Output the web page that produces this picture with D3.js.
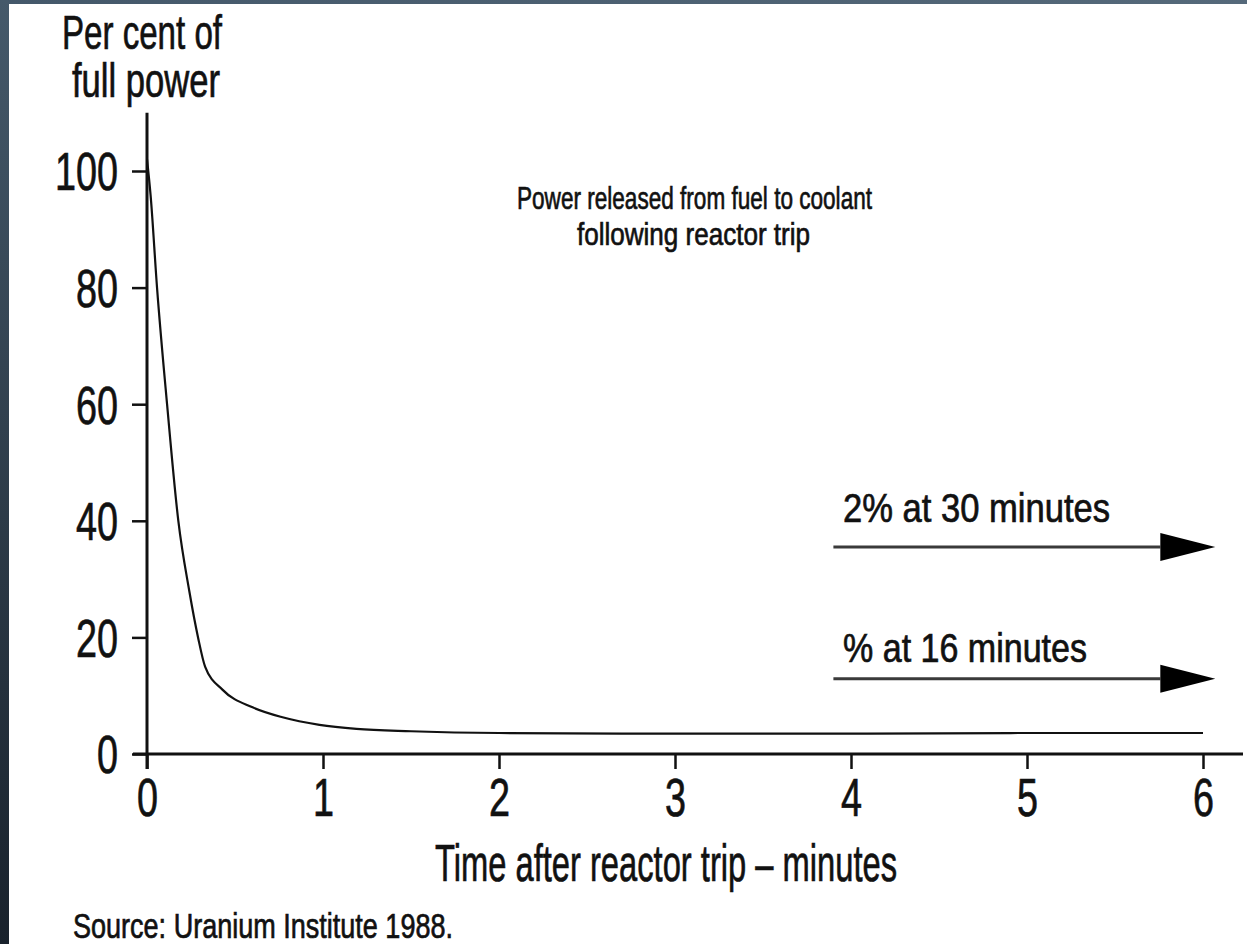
<!DOCTYPE html>
<html>
<head>
<meta charset="utf-8">
<script src="https://cdn.jsdelivr.net/npm/d3@7"></script>
<style>
  html, body { margin: 0; padding: 0; background: #fff; }
  svg { display: block; }
  text { font-family: "Liberation Sans", Arial, sans-serif; fill: #111; stroke: #111; stroke-width: 0.7px; }
</style>
</head>
<body>
<svg id="chart" width="1247" height="944"></svg>
<script>
// ---- data ----
const timeMinutes = [0, 0.02, 0.057, 0.114, 0.178, 0.24, 0.29, 0.33, 0.43, 0.6, 0.77, 0.98, 1.19, 1.5, 2, 3, 4, 5, 6];
const percentPower = [102, 96, 80, 60, 40, 28, 20, 15, 11, 8, 6.3, 5, 4.3, 3.9, 3.6, 3.5, 3.5, 3.6, 3.6];
const xTickValues = [0, 1, 2, 3, 4, 5, 6];
const yTickValues = [0, 20, 40, 60, 80, 100];
const titleLines = ["Power released from fuel to coolant", "following reactor trip"];
const yTitleLines = ["Per cent of", "full power"];
const xTitle = "Time after reactor trip \u2013 minutes";
const sourceText = "Source: Uranium Institute 1988.";
const arrowLabels = ["2% at 30 minutes", "% at 16 minutes"];
const arrowLevels = [35.5, 12.9];          // per cent level of each annotation arrow
const arrowStart = 3.9, arrowEnd = 6.07;   // minutes

const svg = d3.select("#chart");

// frame strips
const defs = svg.append("defs");
const g1 = defs.append("linearGradient").attr("id", "leftStrip").attr("x1", 0).attr("y1", 0).attr("x2", 0).attr("y2", 1);
g1.append("stop").attr("offset", "0%").attr("stop-color", "#45596a");
g1.append("stop").attr("offset", "100%").attr("stop-color", "#19222c");
const g2 = defs.append("linearGradient").attr("id", "topStrip").attr("x1", 0).attr("y1", 0).attr("x2", 1).attr("y2", 0);
g2.append("stop").attr("offset", "0%").attr("stop-color", "#44586a");
g2.append("stop").attr("offset", "100%").attr("stop-color", "#55697a");
svg.append("rect").attr("x", 0).attr("y", 0).attr("width", 1247).attr("height", 4).attr("fill", "url(#topStrip)");
svg.append("rect").attr("x", 0).attr("y", 0).attr("width", 9).attr("height", 944).attr("fill", "url(#leftStrip)");

// scales
const x = d3.scaleLinear().domain([0, 6]).range([147, 1203]);
const y = d3.scaleLinear().domain([0, 100]).range([754, 171]);

// axes
const xAxis = d3.axisBottom(x).tickValues(xTickValues).tickSize(15).tickSizeOuter(0).tickFormat(d3.format("d"));
const yAxis = d3.axisLeft(y).tickValues(yTickValues).tickSize(15).tickSizeOuter(0).tickFormat(d3.format("d"));

const gx = svg.append("g").attr("transform", `translate(0,${y(0)})`).call(xAxis);
const gy = svg.append("g").attr("transform", `translate(${x(0)},0)`).call(yAxis);

[gx, gy].forEach(g => {
  g.select(".domain").remove();
  g.selectAll(".tick line").attr("stroke", "#111").attr("stroke-width", 2.5);
  g.selectAll(".tick text").attr("fill", "#111").style("font-family", "'Liberation Sans', Arial, sans-serif").attr("font-size", 54);
});
gx.selectAll(".tick text")
  .attr("y", 0).attr("dy", 0)
  .attr("transform", `translate(0,${816 - y(0)}) scale(0.7,1)`);
gy.selectAll(".tick text")
  .attr("x", 0).attr("dy", "0.35em")
  .attr("transform", "translate(-29,0) scale(0.7,1)");

// axis lines
svg.append("line").attr("x1", x(0) - 14).attr("x2", x(6) + 40).attr("y1", y(0)).attr("y2", y(0))
  .attr("stroke", "#111").attr("stroke-width", 3);
svg.append("line").attr("x1", x(0)).attr("x2", x(0)).attr("y1", y(110)).attr("y2", y(0) + 15)
  .attr("stroke", "#111").attr("stroke-width", 3);

// curve
const pts = timeMinutes.map((t, i) => [t, percentPower[i]]);
const line = d3.line().x(d => x(d[0])).y(d => y(d[1])).curve(d3.curveMonotoneX);
svg.append("path").datum(pts).attr("d", line)
  .attr("fill", "none").attr("stroke", "#111").attr("stroke-width", 2.2);

// helper for condensed text
function label(txt, xPos, yPos, size, len, anchor) {
  return svg.append("text").attr("x", xPos).attr("y", yPos)
    .attr("font-size", size).attr("text-anchor", anchor || "start")
    .attr("textLength", len).attr("lengthAdjust", "spacingAndGlyphs")
    .text(txt);
}

// y title
label(yTitleLines[0], 62, 49, 48, 160);
label(yTitleLines[1], 72, 97, 48, 148);

// chart title
label(titleLines[0], 517, 209, 32, 355);
label(titleLines[1], 577, 245, 32, 233);

// x title
label(xTitle, 435, 881, 52, 462);

// source
label(sourceText, 73, 938, 35, 380);

// arrows
const arrowLabelBaselines = [522, 662];
arrowLevels.forEach((lv, i) => {
  const yy = y(lv);
  const xs = x(arrowStart), xe = x(arrowEnd), headLen = 55, headH = 14;
  svg.append("line").attr("x1", xs).attr("x2", xe - headLen).attr("y1", yy).attr("y2", yy)
    .attr("stroke", "#3a3a3a").attr("stroke-width", 3);
  svg.append("path")
    .attr("d", `M${xe - headLen},${yy - headH}L${xe},${yy}L${xe - headLen},${yy + headH}Z`)
    .attr("fill", "#000");
  label(arrowLabels[i], 843, arrowLabelBaselines[i], 40, i === 0 ? 267 : 244);
});
</script>
</body>
</html>
